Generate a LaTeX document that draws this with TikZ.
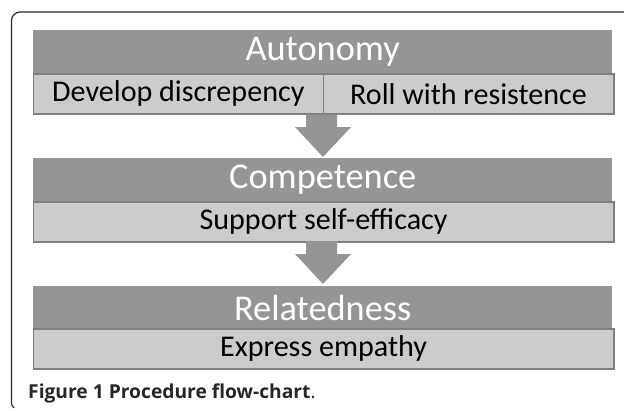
\documentclass[tikz,border=0pt]{standalone}
\usepackage{fontspec}
\setmainfont{Carlito}
\newfontfamily\capfont{Open Sans}
\begin{document}
\begin{tikzpicture}[x=1bp,y=-1bp,
  header/.style={fill=hdrgray,draw=none,minimum height=43bp,minimum width=579bp,
    inner sep=0pt,anchor=north west,text=white,font=\fontsize{36.5}{37}\selectfont},
  item/.style={fill=itemgray,draw=edgegray,line width=1.6bp,minimum height=40bp,
    inner sep=0pt,anchor=north west,text=black,font=\fontsize{30.2}{31}\selectfont},
  flow/.style={fill=hdrgray,draw=none}]
\definecolor{hdrgray}{HTML}{959595}
\definecolor{itemgray}{HTML}{CCCCCC}
\definecolor{edgegray}{HTML}{7F7F7F}
\definecolor{framegray}{HTML}{2A2A2A}
\useasboundingbox (0,0) rectangle (624,410);
% outer frame: open on the right, rounded at the top left
\draw[framegray,line width=1.2bp] (624,12) -- (20,12) arc[start angle=-90,end angle=-180,radius=8.5]
  -- (11.5,403) arc[start angle=180,end angle=125,radius=6];
% Autonomy level
\node[header] (aut) at (33,30) {Autonomy};
\node[item,minimum width=290bp] (dd) at (32.5,73) {Develop discrepency};
\node[item,minimum width=290.5bp] (rr) at (322.5,73) {Roll with resistence};
% Competence level
\node[header] (comp) at (33,158) {Competence};
\node[item,minimum width=580.5bp] (sse) at (32.5,201) {Support self-efficacy};
% Relatedness level
\node[header] (rel) at (33,286) {Relatedness};
\node[item,minimum width=580.5bp] (emp) at (32.5,328) {Express empathy};
% block arrows between levels
\fill[flow] (306,114.5) -- (337,114.5) -- (337,127) -- (351,127) -- (323,157) -- (295,127) -- (306,127) -- cycle;
\fill[flow] (306,241) -- (337,241) -- (337,254) -- (351,254) -- (323,284) -- (295,254) -- (306,254) -- cycle;
% caption
\node[anchor=base west,inner sep=0pt,text=black!85,font=\capfont\fontsize{19.3}{21}\selectfont] (cap) at (28,398)
  {\textbf{Figure 1} \textbf{Procedure flow-chart}.};
\end{tikzpicture}
\end{document}
